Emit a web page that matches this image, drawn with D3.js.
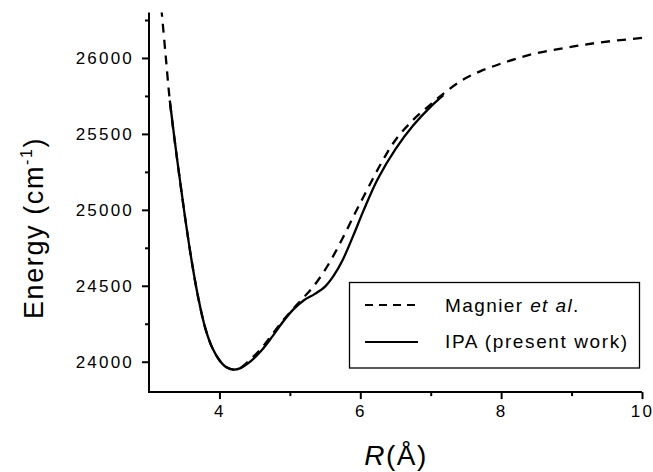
<!DOCTYPE html>
<html>
<head>
<meta charset="utf-8">
<script src="https://cdn.jsdelivr.net/npm/d3@7"></script>
<style>
  html, body { margin: 0; padding: 0; background: #fff; }
  svg { display: block; font-family: "Liberation Sans", Arial, sans-serif; }
</style>
</head>
<body>
<svg id="chart" width="653" height="472"></svg>
<script>
// ---- Data ----
const magnierR = [3.175, 3.23, 3.30, 3.40, 3.50, 3.60, 3.70, 3.80, 3.90, 4.00, 4.10, 4.20, 4.30, 4.45, 4.60, 4.75, 4.90, 5.05, 5.20, 5.35, 5.50, 5.65, 5.80, 5.95, 6.10, 6.30, 6.50, 6.75, 7.00, 7.20, 7.45, 7.70, 8.00, 8.40, 8.90, 9.40, 10.0];
const magnierE = [26330, 26050, 25700, 25330, 24990, 24680, 24420, 24220, 24090, 24010, 23963, 23948, 23960, 24020, 24090, 24180, 24270, 24350, 24425, 24505, 24605, 24725, 24860, 25000, 25135, 25310, 25460, 25592, 25695, 25772, 25855, 25912, 25963, 26020, 26066, 26102, 26132];

const ipaR = [3.295, 3.40, 3.50, 3.60, 3.70, 3.80, 3.90, 4.00, 4.10, 4.20, 4.30, 4.45, 4.60, 4.75, 4.90, 5.05, 5.20, 5.35, 5.50, 5.62, 5.75, 5.90, 6.05, 6.25, 6.50, 6.75, 7.00, 7.18];
const ipaE = [25720, 25330, 24990, 24680, 24420, 24220, 24090, 24010, 23963, 23948, 23958, 24005, 24075, 24165, 24262, 24345, 24405, 24445, 24495, 24565, 24670, 24830, 25000, 25205, 25400, 25555, 25680, 25756];

const xMajorTicks = [4, 6, 8, 10];
const xMinorTicks = [5, 7, 9];
const yMajorTicks = [24000, 24500, 25000, 25500, 26000];
const yMinorTicks = [24250, 24750, 25250, 25750, 26250];
const xDomain = [3, 10];
const yDomain = [23800, 26300];
const legendLabels = ["Magnier", "IPA (present work)"];

// ---- Layout ----
const svg = d3.select("#chart");
const pLeft = 149, pRight = 642, pTop = 12.4, pBottom = 392.1;

const x = d3.scaleLinear().domain(xDomain).range([pLeft, pRight]);
const y = d3.scaleLinear().domain(yDomain).range([pBottom, pTop]);

// clip
svg.append("defs").append("clipPath").attr("id", "plotclip")
  .append("rect").attr("x", pLeft).attr("y", pTop).attr("width", pRight - pLeft + 20).attr("height", pBottom - pTop);

// ---- Curves ----
const line = d3.line().x(d => x(d[0])).y(d => y(d[1])).curve(d3.curveCatmullRom.alpha(0.5));
const magData = magnierR.map((r, i) => [r, magnierE[i]]);
const ipaData = ipaR.map((r, i) => [r, ipaE[i]]);

const g = svg.append("g").attr("clip-path", "url(#plotclip)");
g.append("path").datum(ipaData).attr("d", line)
  .attr("fill", "none").attr("stroke", "#000").attr("stroke-width", 2.3);
g.append("path").datum(magData).attr("d", line)
  .attr("fill", "none").attr("stroke", "#000").attr("stroke-width", 2.3)
  .attr("stroke-dasharray", "9,7");

// ---- Axes ----
const tickFont = "17px";
const xAxis = d3.axisBottom(x).tickValues(xMajorTicks).tickSize(7).tickPadding(6).tickFormat(d3.format("d"));
const xAxisMinor = d3.axisBottom(x).tickValues(xMinorTicks).tickSize(4).tickFormat("");
const yAxis = d3.axisLeft(y).tickValues(yMajorTicks).tickSize(7).tickPadding(8).tickFormat(d3.format("d"));
const yAxisMinor = d3.axisLeft(y).tickValues(yMinorTicks).tickSize(4).tickFormat("");

function styleAxis(sel) {
  sel.select(".domain").attr("stroke", "#000").attr("stroke-width", 2);
  sel.selectAll(".tick line").attr("stroke", "#000").attr("stroke-width", 2);
  sel.selectAll(".tick text").attr("fill", "#000").style("font-size", tickFont)
    .style("letter-spacing", "2.2px").style("font-family", '"Liberation Sans", Arial, sans-serif');
}

const gx = svg.append("g").attr("transform", `translate(0,${pBottom})`).call(xAxis);
gx.select(".domain").attr("d", `M${pLeft - 1},0H${pRight}`);
styleAxis(gx);
const gxm = svg.append("g").attr("transform", `translate(0,${pBottom})`).call(xAxisMinor);
gxm.select(".domain").remove();
styleAxis(gxm);

const gy = svg.append("g").attr("transform", `translate(${pLeft},0)`).call(yAxis);
gy.select(".domain").attr("d", `M0,${pTop}V${pBottom + 1}`);
styleAxis(gy);
const gym = svg.append("g").attr("transform", `translate(${pLeft},0)`).call(yAxisMinor);
gym.select(".domain").remove();
styleAxis(gym);

// ---- Axis titles ----
const xt = svg.append("text").attr("x", 396).attr("y", 465).attr("text-anchor", "middle")
  .style("font-size", "28px").style("letter-spacing", "1.5px");
xt.append("tspan").style("font-style", "italic").text("R");
xt.append("tspan").text("(Å)");

const yt = svg.append("text").attr("transform", "translate(43,228) rotate(-90)")
  .attr("text-anchor", "middle").style("font-size", "27px").style("letter-spacing", "1.6px");
yt.append("tspan").text("Energy (cm");
yt.append("tspan").attr("dy", -11).style("font-size", "16px").text("-1");
yt.append("tspan").attr("dy", 11).text(")");

// ---- Legend ----
const lg = svg.append("g");
lg.append("rect").attr("x", 349.5).attr("y", 282.5).attr("width", 290).attr("height", 85.5)
  .attr("fill", "#fff").attr("stroke", "#000").attr("stroke-width", 1.3);
lg.append("line").attr("x1", 365).attr("x2", 419).attr("y1", 305).attr("y2", 305)
  .attr("stroke", "#000").attr("stroke-width", 2).attr("stroke-dasharray", "8,6");
lg.append("line").attr("x1", 365).attr("x2", 418).attr("y1", 342).attr("y2", 342)
  .attr("stroke", "#000").attr("stroke-width", 2);
const t1 = lg.append("text").attr("x", 445).attr("y", 312).style("font-size", "19px").style("letter-spacing", "1.4px");
t1.append("tspan").text(legendLabels[0] + " ");
t1.append("tspan").style("font-style", "italic").text("et al");
t1.append("tspan").text(".");
lg.append("text").attr("x", 445).attr("y", 348).style("font-size", "19px").style("letter-spacing", "1.6px")
  .text(legendLabels[1]);
</script>
</body>
</html>
